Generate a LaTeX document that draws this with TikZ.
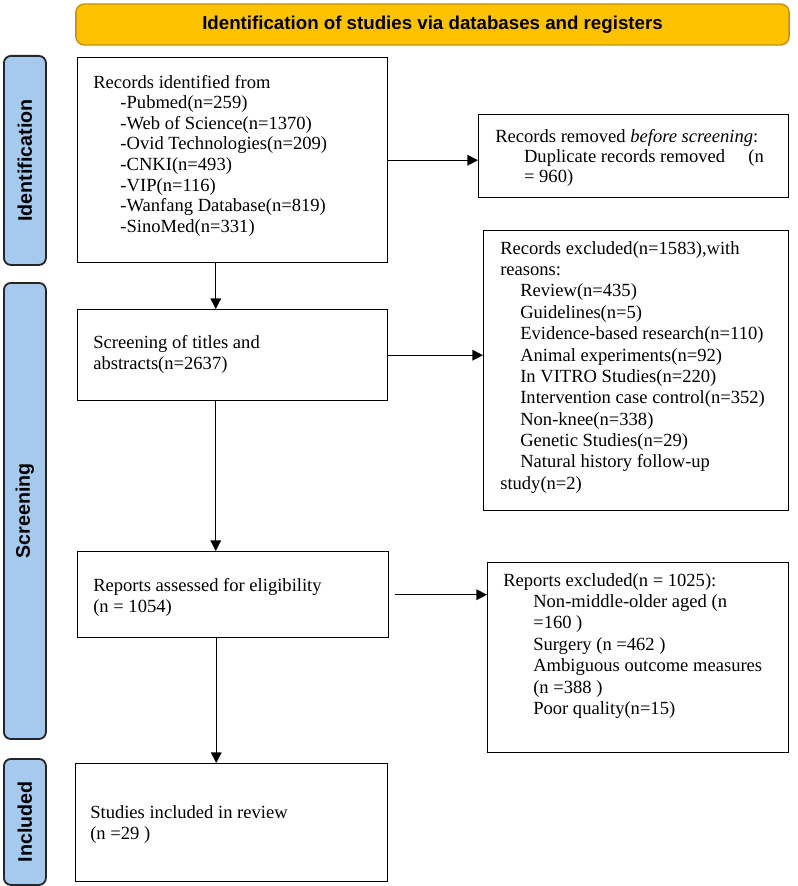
\documentclass[tikz,border=0pt]{standalone}
\usepackage{fontspec}
\setmainfont{Liberation Serif}
\newfontfamily\labelfont{Liberation Sans}
\usetikzlibrary{arrows.meta,shapes,positioning,calc}
\definecolor{bannerfill}{RGB}{255,194,0}
\definecolor{bannerdraw}{RGB}{190,145,20}
\definecolor{phasefill}{RGB}{166,201,238}
\newcommand{\listind}{\hspace*{0.68cm}}
\tikzset{
	banner/.style={
		rectangle,
		rounded corners=6pt,
		draw=bannerdraw,
		line width=1pt,
		fill=bannerfill,
		minimum width=17.825cm,
		minimum height=1.025cm,
		font=\labelfont\bfseries\fontsize{13.3}{15}\selectfont,
	},
	phase/.style={
		rectangle,
		rounded corners=5pt,
		draw=black!85,
		line width=1.3pt,
		fill=phasefill,
		anchor=north west,
		minimum width=1.05cm,
	},
	phasetxt/.style={
		rotate=90,
		font=\labelfont\bfseries\fontsize{14}{16}\selectfont,
	},
	box/.style={
		rectangle,
		draw=black,
		line width=1pt,
		fill=white,
		anchor=north west,
	},
	txt/.style={
		anchor=north west,
		align=left,
		inner sep=0pt,
		font=\fontsize{13.2}{15.2}\selectfont,
	},
	flow/.style={
		-{Triangle[length=7.5pt,width=7.5pt]},
		line width=0.9pt,
	},
}

\begin{document}
\begin{tikzpicture}[x=0.025cm,y=-0.025cm]
	\useasboundingbox (0,0) rectangle (797,886);

	\node[banner] (head) at (432.5,24.5) {Identification of studies via databases and registers};

	% phases on the left
	\node[phase, minimum height=5.225cm] (p-ident) at (3,55) {};
	\node[phasetxt] (p-ident-txt) at (p-ident.center) {Identification};
	\node[phase, minimum height=11.4cm] (p-screen) at (3,282) {};
	\node[phasetxt] (p-screen-txt) at (p-screen.center) {Screening};
	\node[phase, minimum height=3.15cm] (p-incl) at (3,758) {};
	\node[phasetxt] (p-incl-txt) at (p-incl.center) {Included};

	% identification
	\node[box, minimum width=7.75cm, minimum height=5.125cm] (recs) at (77,57) {};
	\node[txt, font=\fontsize{13.2}{14.6}\selectfont] (recs-txt) at (93,75) {Records identified from\\
		\listind -Pubmed(n=259)\\
		\listind -Web of Science(n=1370)\\
		\listind -Ovid Technologies(n=209)\\
		\listind -CNKI(n=493)\\
		\listind -VIP(n=116)\\
		\listind -Wanfang Database(n=819)\\
		\listind -SinoMed(n=331)};

	\node[box, minimum width=7.75cm, minimum height=2.075cm] (removed) at (478,114) {};
	\node[txt, font=\fontsize{13.2}{14.2}\selectfont] (removed-txt) at (495,129) {Records removed \textit{before screening}:\\
		\hspace*{0.72cm}Duplicate records removed\quad\ (n\\
		\hspace*{0.72cm}= 960)};

	% screening
	\node[box, minimum width=7.75cm, minimum height=2.275cm] (screen) at (77,309) {};
	\node[txt] (screen-txt) at (93,335) {Screening of titles and\\abstracts(n=2637)};

	\node[box, minimum width=7.625cm, minimum height=7cm] (excl) at (483,230) {};
	\node[txt] (excl-txt) at (500,241) {Records excluded(n=1583),with\\
		reasons:\\
		\hspace*{0.5cm}Review(n=435)\\
		\hspace*{0.5cm}Guidelines(n=5)\\
		\hspace*{0.5cm}Evidence-based research(n=110)\\
		\hspace*{0.5cm}Animal experiments(n=92)\\
		\hspace*{0.5cm}In VITRO Studies(n=220)\\
		\hspace*{0.5cm}Intervention case control(n=352)\\
		\hspace*{0.5cm}Non-knee(n=338)\\
		\hspace*{0.5cm}Genetic Studies(n=29)\\
		\hspace*{0.5cm}Natural history follow-up\\
		study(n=2)};

	\node[box, minimum width=7.775cm, minimum height=2.15cm] (reports) at (77,551) {};
	\node[txt] (reports-txt) at (93,578) {Reports assessed for eligibility\\(n = 1054)};

	\node[box, minimum width=7.525cm, minimum height=4.75cm] (repexcl) at (487,562) {};
	\node[txt] (repexcl-txt) at (503,573) {Reports excluded(n = 1025):\\
		\hspace*{0.75cm}Non-middle-older aged (n\\
		\hspace*{0.75cm}=160 )\\
		\hspace*{0.75cm}Surgery (n =462 )\\
		\hspace*{0.75cm}Ambiguous outcome measures\\
		\hspace*{0.75cm}(n =388 )\\
		\hspace*{0.75cm}Poor quality(n=15)};

	% included
	\node[box, minimum width=7.8cm, minimum height=2.95cm] (incl) at (75,763) {};
	\node[txt] (incl-txt) at (90,805) {Studies included in review\\(n =29 )};

	% connectors
	\draw[flow] (recs.east) -- (recs.east -| removed.west);
	\draw[flow] ([xshift=-0.425cm]recs.south) -- ([xshift=-0.425cm]recs.south |- screen.north);
	\draw[flow] (screen.east) -- (screen.east -| excl.west);
	\draw[flow] ([xshift=-0.425cm]screen.south) -- ([xshift=-0.425cm]screen.south |- reports.north);
	\draw[flow] ([xshift=4pt]reports.east) -- (reports.east -| repexcl.west);
	\draw[flow] ([xshift=-0.425cm]reports.south) -- ([xshift=-0.425cm]reports.south |- incl.north);
\end{tikzpicture}
\end{document}
